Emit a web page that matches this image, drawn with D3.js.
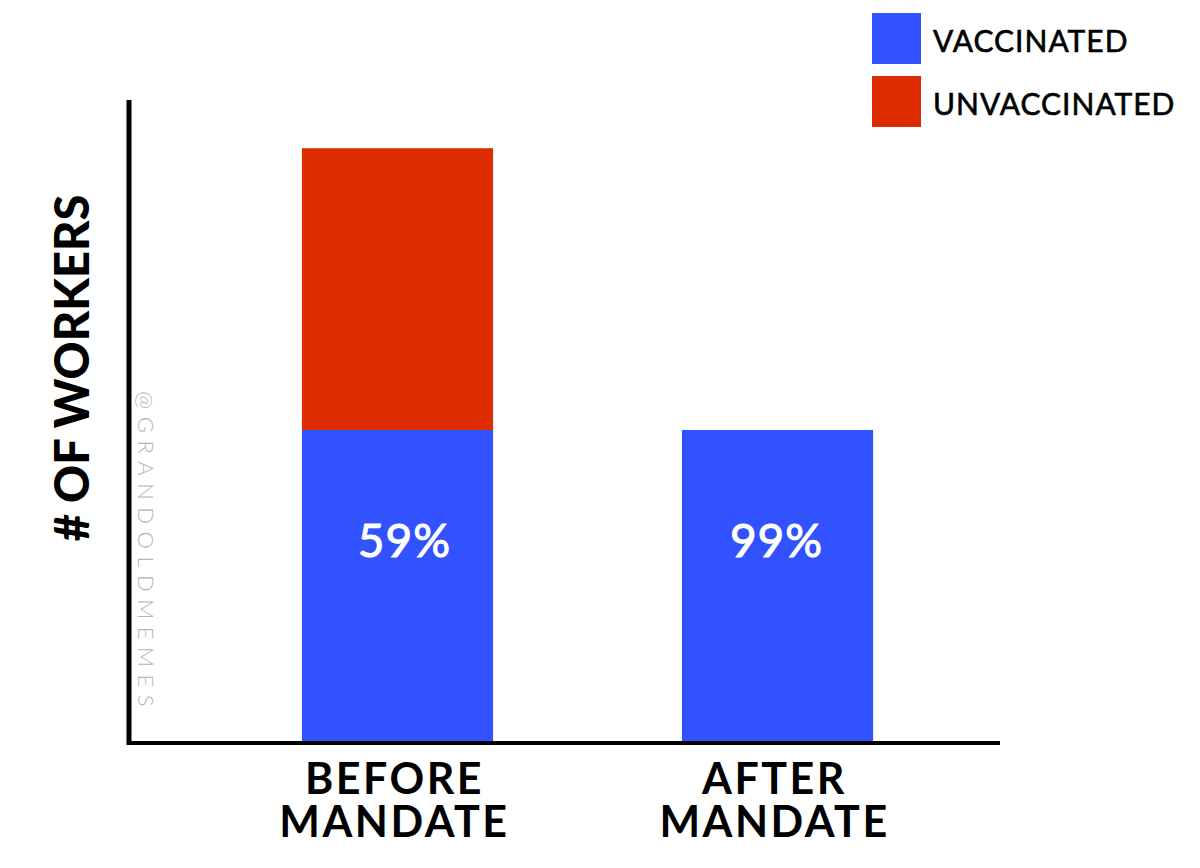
<!DOCTYPE html>
<html>
<head>
<meta charset="utf-8">
<script src="https://cdn.jsdelivr.net/npm/d3@7"></script>
<style>
  html, body { margin: 0; padding: 0; background: #fff; }
  svg { display: block; }
  text { font-family: Lato, "Open Sans", sans-serif; }
</style>
</head>
<body>
<svg id="chart" width="1200" height="868"></svg>
<script>
// Data (arbitrary worker units)
const categories = ["BEFORE\nMANDATE", "AFTER\nMANDATE"];
const vaccinated = [100, 100];
const unvaccinated = [90, 0];
const pctLabels = ["59%", "99%"];
const seriesNames = ["VACCINATED", "UNVACCINATED"];
const seriesColors = ["#3352ff", "#dd2c00"];
const yTitle = "# OF WORKERS";
const watermark = "@GRANDOLDMEMES";

const svg = d3.select("#chart");

const x = d3.scaleBand()
  .domain(categories)
  .range([129, 1046])
  .paddingInner(0.497)
  .paddingOuter(0.455);

const y = d3.scaleLinear()
  .domain([0, 205.4])
  .range([743, 100]);

// stacked data
const rows = categories.map((c, i) => ({ cat: c, VACCINATED: vaccinated[i], UNVACCINATED: unvaccinated[i] }));
const stack = d3.stack().keys(seriesNames)(rows);
const color = d3.scaleOrdinal().domain(seriesNames).range(seriesColors);

svg.append("g").selectAll("g")
  .data(stack)
  .join("g")
  .attr("fill", d => color(d.key))
  .selectAll("rect")
  .data(d => d.filter(p => p[1] - p[0] > 0))
  .join("rect")
  .attr("x", d => x(d.data.cat))
  .attr("width", x.bandwidth())
  .attr("y", d => y(d[1]))
  .attr("height", d => y(d[0]) - y(d[1]));

// percentage labels
svg.append("g").selectAll("text")
  .data(categories)
  .join("text")
  .attr("x", (d, i) => x(d) + x.bandwidth() / 2 + (i === 0 ? 7 : -1))
  .attr("y", 557)
  .attr("text-anchor", "middle")
  .attr("fill", "#fff")
  .attr("font-size", 46)
  .attr("font-weight", 400)
  .attr("stroke", "#fff")
  .attr("stroke-width", 1)
  .attr("letter-spacing", 1)
  .text((d, i) => pctLabels[i]);

// axes lines
const [y0, y1] = y.range();
svg.append("line")
  .attr("x1", 129).attr("x2", 129)
  .attr("y1", y1).attr("y2", y0 + 2)
  .attr("stroke", "#000").attr("stroke-width", 5);
svg.append("line")
  .attr("x1", 127).attr("x2", 1000)
  .attr("y1", y0).attr("y2", y0)
  .attr("stroke", "#000").attr("stroke-width", 4);

// category labels
const catG = svg.append("g").selectAll("text")
  .data(categories)
  .join("text")
  .attr("x", d => x(d) + x.bandwidth() / 2 - 3)
  .attr("y", 794)
  .attr("text-anchor", "middle")
  .attr("fill", "#000")
  .attr("font-size", 43)
  .attr("font-weight", 700)
  .attr("letter-spacing", 2.5);
catG.selectAll("tspan")
  .data(d => d.split("\n"))
  .join("tspan")
  .attr("x", function() { return d3.select(this.parentNode).attr("x"); })
  .attr("dy", (d, i) => i === 0 ? 0 : 43)
  .text(d => d);

// y title
svg.append("text")
  .attr("transform", "translate(89,368) rotate(-90)")
  .attr("text-anchor", "middle")
  .attr("font-size", 47)
  .attr("font-weight", 900)
  .attr("fill", "#000")
  .text(yTitle);

// watermark
svg.append("text")
  .attr("transform", "translate(138,391) rotate(90)")
  .attr("text-anchor", "start")
  .attr("font-family", "'Open Sans', sans-serif")
  .attr("font-size", 22)
  .attr("font-weight", 300)
  .attr("letter-spacing", 7.5)
  .attr("fill", "#b5b5b5")
  .text(watermark);

// legend
const leg = svg.append("g").selectAll("g")
  .data(seriesNames)
  .join("g")
  .attr("transform", (d, i) => `translate(872,${13 + i * 63})`);
leg.append("rect")
  .attr("width", 49).attr("height", 51)
  .attr("fill", d => color(d));
leg.append("text")
  .attr("x", 61).attr("y", 39)
  .attr("font-size", 30)
  .attr("font-weight", 400)
  .attr("letter-spacing", 1)
  .attr("stroke", "#000")
  .attr("stroke-width", 0.6)
  .attr("fill", "#000")
  .text(d => d);
</script>
</body>
</html>
